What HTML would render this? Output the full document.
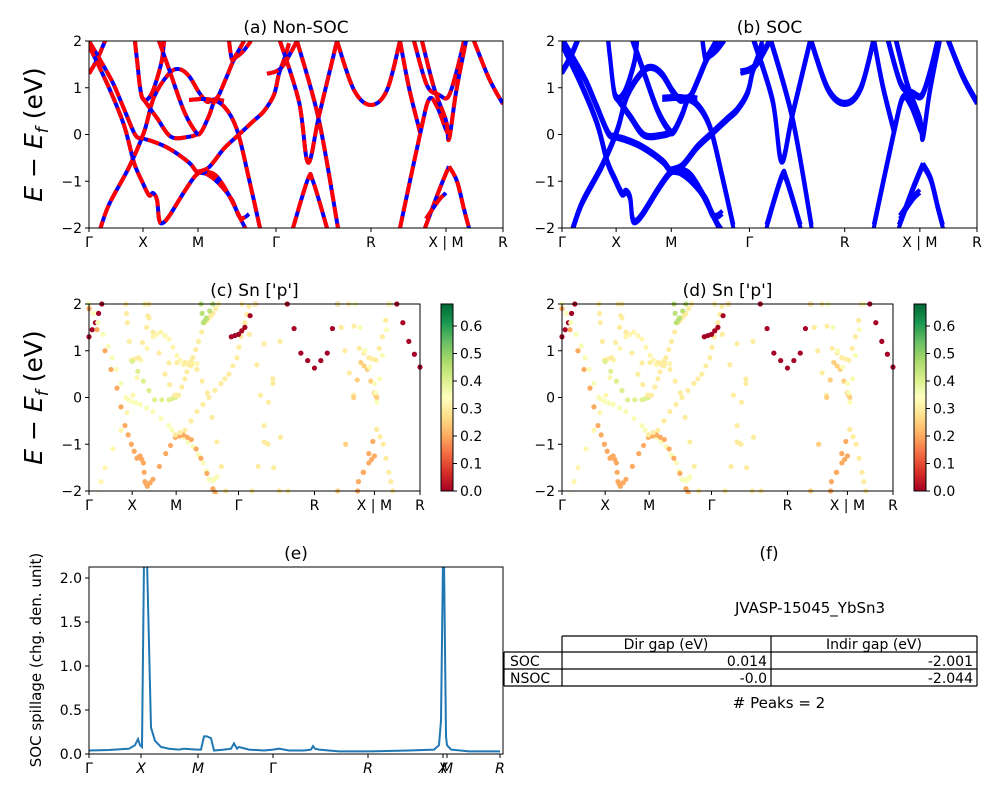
<!DOCTYPE html>
<html><head><meta charset="utf-8"><style>
body{margin:0;background:#fff;font-family:"Liberation Sans","DejaVu Sans",sans-serif}
svg text{font-family:"DejaVu Sans","Liberation Sans",sans-serif}
</style></head><body>
<svg id="fig" width="1000" height="800" viewBox="0 0 1000 800" xmlns="http://www.w3.org/2000/svg">
<rect width="1000" height="800" fill="#fff"/>
<defs>
<clipPath id="ca"><rect x="89" y="41" width="414" height="187"/></clipPath>
<clipPath id="cb"><rect x="562" y="41" width="415" height="187"/></clipPath>
<clipPath id="cc"><rect x="86" y="301" width="337" height="193"/></clipPath>
<clipPath id="cd"><rect x="559" y="301" width="337" height="193"/></clipPath>
<clipPath id="ce"><rect x="89" y="567" width="414" height="187"/></clipPath>
<linearGradient id="cmap" x1="0" y1="1" x2="0" y2="0">
<stop offset="0" stop-color="#a50026"/><stop offset="0.1" stop-color="#d73027"/><stop offset="0.2" stop-color="#f46d43"/><stop offset="0.3" stop-color="#fdae61"/><stop offset="0.4" stop-color="#fee08b"/><stop offset="0.5" stop-color="#ffffbf"/><stop offset="0.6" stop-color="#d9ef8b"/><stop offset="0.7" stop-color="#a6d96a"/><stop offset="0.8" stop-color="#66bd63"/><stop offset="0.9" stop-color="#1a9850"/><stop offset="1" stop-color="#006837"/>
</linearGradient>
</defs>
<g id="root"></g>
</svg>
<script>
// k-path (distance units 0..414)
const kTicks=[0,54,109,187,282,357,414];
const kLabels=["Γ","X","M","Γ","R","X | M","R"];
const eTicks=[-2,-1,0,1,2];
const bandK=[
[0,8,16],
[0,11,24,34,46,53,64,80,100,108,118,130,143,150,155,160],
[0,20,35,45,53,60,64,68,70,73,80,96,108,118,128,140,155,160],
[10,20,40,55,65,80,90,100,110,118,125,135],
[46,48,53,62,72,75],
[54,68,82,100,108],
[70,80,95,107,112,120,125,130,137,145,150,155,162],
[100,120,135,148,160,171],
[108,120,135,150,165,175,185,190,195,200],
[140,143,147,155],
[178,187,195,208],
[191,210,219,230,248],
[208,230,249],
[204,219,224,238],
[248,265,282,298,311],
[325,338,350,359,367,375],
[311,320,331],
[311,331,340,348,357,360],
[333,345,357,360,367,377],
[336,350,360],
[360,368,375,380],
[337,350,357],
[385,400,414]
];
const bandE=[
[1.3,1.6,2.0],
[2,1.6,1.1,0.6,0.0,-0.08,-0.15,-0.3,-0.6,-0.8,-0.85,-1.05,-1.4,-1.75,-1.78,-1.7],
[1.9,1.0,0.2,-0.6,-1.0,-1.3,-1.25,-1.4,-1.8,-1.9,-1.75,-1.2,-0.85,-0.8,-0.9,-1.3,-1.95,-2.1],
[-2.1,-1.5,-0.7,0.05,0.8,1.3,1.4,1.25,0.9,0.7,0.75,0.72],
[2.0,1.6,0.8,0.85,1.5,2.0],
[0.77,0.35,-0.05,-0.05,0.0],
[2.0,1.4,0.5,0.05,0.05,0.4,0.7,0.85,1.2,1.6,1.7,1.8,2.0],
[0.74,0.75,0.6,0.1,-0.95,-2.0],
[-0.8,-0.7,-0.3,0.0,0.3,0.5,0.85,1.3,1.6,1.95],
[2.0,1.6,1.7,2.0],
[1.3,1.35,1.5,2.0],
[2.0,0.7,-0.6,0.4,2.0],
[2.0,0.3,-2.0],
[-2.0,-0.95,-1.0,-2.0],
[2.0,0.95,0.63,0.95,2.0],
[2.0,1.05,0.85,0.8,1.3,2.0],
[2.0,1.0,0.05],
[-2.0,0.0,0.75,0.6,0.1,0.0],
[2.0,1.0,0.3,-0.1,0.9,2.0],
[-2.0,-1.2,-0.68],
[-0.68,-1.0,-1.6,-2.0],
[-1.8,-1.4,-1.25],
[2.0,1.2,0.65]
];
const bandW=[0.0,0.35,0.2,0.32,0.3,0.4,0.3,0.3,0.3,0.45,0.0,0.3,0.3,0.3,0.0,0.3,0.3,0.25,0.35,0.2,0.3,0.2,0.0];
// spillage panel (e)
const sK=[0,20,40,46,49,51,53,55,58,62,66,72,80,90,95,108,112,115,118,122,125,135,142,145,148,150,160,175,184,190,200,215,222,224,226,230,250,280,320,345,350,352,354,355,357,358,362,380,411];
const sV=[0.04,0.045,0.06,0.1,0.17,0.1,0.08,2.2,2.2,0.3,0.15,0.08,0.06,0.05,0.06,0.05,0.05,0.2,0.2,0.18,0.04,0.05,0.06,0.12,0.06,0.08,0.05,0.04,0.05,0.06,0.04,0.04,0.05,0.09,0.06,0.05,0.03,0.03,0.04,0.05,0.1,0.38,2.2,2.2,0.2,0.1,0.05,0.03,0.03];
const sTicksK=[0,52,109,184,279,354,358,411];
const sTickLabels=["Γ","X","M","Γ","R","X","M","R"];
const sYTicks=[0,0.5,1.0,1.5,2.0];
const cbTicks=[0,0.1,0.2,0.3,0.4,0.5,0.6];
const colStops=["#a50026","#d73027","#f46d43","#fdae61","#fee08b","#ffffbf","#d9ef8b","#a6d96a","#66bd63","#1a9850","#006837"];

const NS="http://www.w3.org/2000/svg";
const root=document.getElementById('root');
function mk(t,a,p){const e=document.createElementNS(NS,t);for(const k in a)e.setAttribute(k,a[k]);(p||root).appendChild(e);return e;}
function txt(x,y,s,a,p){const e=mk('text',Object.assign({x:x,y:y,'font-size':14,fill:'#000'},a||{}),p);e.textContent=s;return e;}
function hex(h){return [parseInt(h.substr(1,2),16),parseInt(h.substr(3,2),16),parseInt(h.substr(5,2),16)];}
function cmap(v){let t=Math.max(0,Math.min(1,v/0.68))*10;const i=Math.min(9,Math.floor(t));const f=t-i;const a=hex(colStops[i]),b=hex(colStops[i+1]);return 'rgb('+a.map((c,j)=>Math.round(c+(b[j]-c)*f)).join(',')+')';}
function smooth(P){
  let d='M'+P[0][0].toFixed(1)+','+P[0][1].toFixed(1);
  for(let i=0;i<P.length-1;i++){
    const p0=P[Math.max(0,i-1)],p1=P[i],p2=P[i+1],p3=P[Math.min(P.length-1,i+2)];
    const c1=[p1[0]+(p2[0]-p0[0])/6,p1[1]+(p2[1]-p0[1])/6];
    const c2=[p2[0]-(p3[0]-p1[0])/6,p2[1]-(p3[1]-p1[1])/6];
    d+=' C'+c1[0].toFixed(1)+','+c1[1].toFixed(1)+' '+c2[0].toFixed(1)+','+c2[1].toFixed(1)+' '+p2[0].toFixed(1)+','+p2[1].toFixed(1);
  }
  return d;
}

function panel(P){
  const g=mk('g',{});
  
  
  const xs=k=>P.x0+k/414*(P.x1-P.x0);
  const ys=e=>P.y0+(2-e)/4*(P.y1-P.y0);
  const pg=mk('g',{'clip-path':'url(#'+P.clip+')'},g);
  for(let b=0;b<bandK.length;b++){
    const pts=smooth(bandK[b].map((k,i)=>[xs(k),ys(bandE[b][i])]));
    if(P.mode==='nsoc'){
      const l1=mk('path',{d:pts,fill:'none',stroke:'#0000ff','stroke-width':4},pg);
      
      
      const l2=mk('path',{d:pts,fill:'none',stroke:'#ff0000','stroke-width':4,'stroke-dasharray':'12 5'},pg);
      
      
    }else if(P.mode==='soc'){
      const l1=mk('path',{d:pts,fill:'none',stroke:'#0000ff','stroke-width':4},pg);
      
      
      const pts2=smooth(bandK[b].map((k,i)=>[xs(k),ys(bandE[b][i]+0.07)]));
      const l2=mk('path',{d:pts2,fill:'none',stroke:'#0000ff','stroke-width':4},pg);
      
      
    }else{
      bandK[b].forEach((k,i)=>{
        const c=mk('circle',{cx:xs(k),cy:ys(bandE[b][i]),r:2.6,fill:cmap(bandW[b])},pg);
        
        
        if(i<bandK[b].length-1){
          const km=(k+bandK[b][i+1])/2, em=(bandE[b][i]+bandE[b][i+1])/2;
          const c2=mk('circle',{cx:xs(km),cy:ys(em),r:2.6,fill:cmap(bandW[b])},pg);
          
          
        }
      });
    }
  }
  mk('rect',{x:P.x0,y:P.y0,width:P.x1-P.x0,height:P.y1-P.y0,fill:'none',stroke:'#000','stroke-width':1},g);
  kTicks.forEach((k,i)=>{mk('line',{x1:xs(k),x2:xs(k),y1:P.y1,y2:P.y1+4,stroke:'#000'},g);
    const t=txt(xs(k),P.y1+19,kLabels[i],{'text-anchor':'middle'},g);
    });
  eTicks.forEach(e=>{mk('line',{x1:P.x0-4,x2:P.x0,y1:ys(e),y2:ys(e),stroke:'#000'},g);
    const t=txt(P.x0-7,ys(e)+5,e<0?'−'+(-e):String(e),{'text-anchor':'end'},g);
    });
  const tt=txt((P.x0+P.x1)/2,P.y0-8,P.title,{'text-anchor':'middle','font-size':17},g);
  
  if(P.ylab){const yl=mk('text',{x:0,y:0,'font-size':25,'text-anchor':'middle',transform:'translate(42,'+((P.y0+P.y1)/2)+') rotate(-90)'},g);
    yl.innerHTML='<tspan font-style="italic">E</tspan> − <tspan font-style="italic">E</tspan><tspan font-style="italic" font-size="17" dy="6">f</tspan><tspan dy="-6"> (eV)</tspan>';
    }
  if(P.cb){const cg=mk('g',{},g);
    mk('rect',{x:P.cb,y:P.y0,width:12,height:P.y1-P.y0,fill:'url(#cmap)',stroke:'#000'},cg);
    cbTicks.forEach(v=>{const y=P.y1-v/0.68*(P.y1-P.y0);mk('line',{x1:P.cb+12,x2:P.cb+16,y1:y,y2:y,stroke:'#000'},cg);
      txt(P.cb+19,y+5,v.toFixed(1),{},cg);});}
}
panel({name:'panel-a-non-soc',x0:89,x1:503,y0:41,y1:228,clip:'ca',mode:'nsoc',title:'(a) Non-SOC',ylab:1});
panel({name:'panel-b-soc',x0:562,x1:977,y0:41,y1:228,clip:'cb',mode:'soc',title:'(b) SOC'});
panel({name:'panel-c-sn-p',x0:89,x1:420,y0:304,y1:491,clip:'cc',mode:'dots',title:"(c)  Sn ['p']",ylab:1,cb:441});
panel({name:'panel-d-sn-p',x0:562,x1:893,y0:304,y1:491,clip:'cd',mode:'dots',title:"(d) Sn ['p']",cb:914});

// panel e
(function(){
  const g=mk('g',{});
  const x0=89,x1=503,y0=567,y1=754,ymax=2.125;
  const xs=k=>x0+k/411*(x1-x0-3);const ys=v=>y1-v/ymax*(y1-y0);
  const pts=sK.map((k,i)=>xs(k).toFixed(1)+','+ys(sV[i]).toFixed(1)).join(' ');
  const l=mk('polyline',{points:pts,fill:'none',stroke:'#1f77b4','stroke-width':2,'clip-path':'url(#ce)'},g);
  
  mk('rect',{x:x0,y:y0,width:x1-x0,height:y1-y0,fill:'none',stroke:'#000'},g);
  sTicksK.forEach((k,i)=>{mk('line',{x1:xs(k),x2:xs(k),y1:y1,y2:y1+4,stroke:'#000'},g);
    const t=txt(xs(k),y1+19,sTickLabels[i],{'text-anchor':'middle','font-style':i===0||i===3?'normal':'italic'},g);
    });
  sYTicks.forEach(v=>{mk('line',{x1:x0-4,x2:x0,y1:ys(v),y2:ys(v),stroke:'#000'},g);
    txt(x0-7,ys(v)+5,v.toFixed(1),{'text-anchor':'end'},g);});
  const t=txt(296,559,'(e)',{'text-anchor':'middle','font-size':17},g);
  const yl=txt(0,0,'SOC spillage (chg. den. unit)',{'text-anchor':'middle','font-size':15,transform:'translate(41,660) rotate(-90)'},g);
  
})();

// panel f table
(function(){
  const g=mk('g',{});
  txt(769,559,'(f)',{'text-anchor':'middle','font-size':17},g);
  txt(810,613,'JVASP-15045_YbSn3',{'text-anchor':'middle','font-size':15},g);
  const L=[[562,636,977,636],[504,652,977,652],[504,669,977,669],[504,686,977,686],[562,636,562,686],[771,636,771,686],[977,636,977,686],[504,652,504,686]];
  L.forEach(a=>mk('line',{x1:a[0],y1:a[1],x2:a[2],y2:a[3],stroke:'#000','stroke-width':1.2},g));
  txt(666,649,'Dir gap (eV)',{'text-anchor':'middle'},g);
  txt(874,649,'Indir gap (eV)',{'text-anchor':'middle'},g);
  txt(510,666,'SOC',{},g);txt(510,683,'NSOC',{},g);
  txt(767,666,'0.014',{'text-anchor':'end'},g);txt(973,666,'-2.001',{'text-anchor':'end'},g);
  txt(767,683,'-0.0',{'text-anchor':'end'},g);txt(973,683,'-2.044',{'text-anchor':'end'},g);
  txt(779,708,'# Peaks = 2',{'text-anchor':'middle','font-size':15},g);
})();
</script>
</body></html>
